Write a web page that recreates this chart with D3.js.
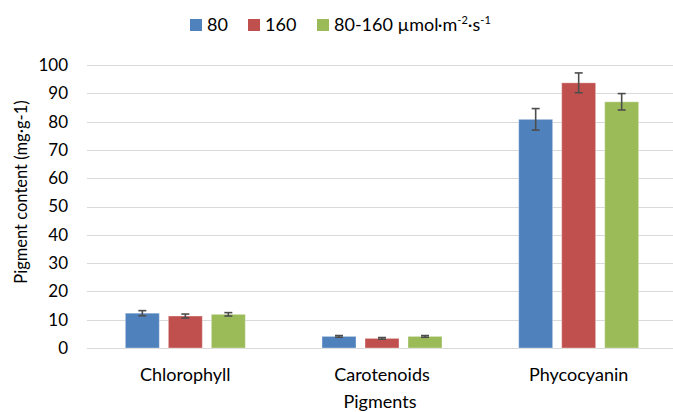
<!DOCTYPE html>
<html lang="en">
<head>
<meta charset="UTF-8">
<title>Pigment content</title>
<script src="https://d3js.org/d3.v7.min.js"></script>
<style>
    body { margin: 0; background: #fff; }
    svg { display: block; }
    text { font-family: Lato, "Open Sans", sans-serif; fill: #000; }
    .grid line { stroke: #d9d9d9; stroke-width: 1; }
    .err { stroke: #4d4d4d; stroke-width: 1.6; }
</style>
</head>
<body>
<svg></svg>
<script>
    const width = 673;
    const height = 412;

    // data
    const categories = ["Chlorophyll", "Carotenoids", "Phycocyanin"];
    const seriesNames = ["80", "160", "80-160"];
    const colors = ["#4f81bd", "#c0504d", "#9bbb59"];
    const values = [
        [12.3, 4.1, 80.8],   // 80
        [11.3, 3.4, 93.7],   // 160
        [11.9, 4.1, 87.0]    // 80-160
    ];
    const errors = [
        [0.9, 0.3, 3.8],
        [0.7, 0.3, 3.5],
        [0.6, 0.3, 2.9]
    ];
    const yTicks = [0, 10, 20, 30, 40, 50, 60, 70, 80, 90, 100];

    const svg = d3.select("svg")
        .attr("width", width)
        .attr("height", height);

    const x0 = d3.scaleBand()
        .domain(categories)
        .range([87, 677])
        .paddingInner(0.39)
        .paddingOuter(0.195);

    const x1 = d3.scaleBand()
        .domain(seriesNames)
        .range([0, x0.bandwidth()])
        .paddingInner(0.21);

    const y = d3.scaleLinear()
        .domain([0, 100])
        .range([348, 65]);

    // gridlines
    svg.append("g")
        .attr("class", "grid")
        .selectAll("line")
        .data(yTicks)
        .enter().append("line")
        .attr("x1", 87)
        .attr("x2", width)
        .attr("y1", d => Math.round(y(d)) + 0.5)
        .attr("y2", d => Math.round(y(d)) + 0.5);

    // y tick labels
    svg.append("g")
        .selectAll("text")
        .data(yTicks)
        .enter().append("text")
        .attr("x", 68)
        .attr("y", d => y(d))
        .attr("dy", "0.35em")
        .attr("text-anchor", "end")
        .style("font-size", "17px")
        .text(d => d);

    // flatten for bars
    const bars = [];
    seriesNames.forEach((s, si) => {
        categories.forEach((c, ci) => {
            bars.push({ cat: c, series: s, si: si, v: values[si][ci], e: errors[si][ci] });
        });
    });

    svg.append("g")
        .selectAll("rect")
        .data(bars)
        .enter().append("rect")
        .attr("x", d => x0(d.cat) + x1(d.series))
        .attr("y", d => y(d.v))
        .attr("width", x1.bandwidth())
        .attr("height", d => y(0) - y(d.v))
        .attr("fill", d => colors[d.si])
        .attr("stroke", "#fff")
        .attr("stroke-opacity", 0.35)
        .attr("stroke-width", 1);

    // error bars
    const eb = svg.append("g").attr("class", "err");
    bars.forEach(d => {
        const cx = x0(d.cat) + x1(d.series) + x1.bandwidth() / 2;
        eb.append("line")
            .attr("x1", cx).attr("x2", cx)
            .attr("y1", y(d.v + d.e)).attr("y2", y(d.v - d.e));
        [d.v + d.e, d.v - d.e].forEach(v => {
            eb.append("line")
                .attr("x1", cx - 4).attr("x2", cx + 4)
                .attr("y1", y(v)).attr("y2", y(v));
        });
    });

    // category labels
    svg.append("g")
        .selectAll("text")
        .data(categories)
        .enter().append("text")
        .attr("x", d => x0(d) + x0.bandwidth() / 2)
        .attr("y", 381)
        .attr("text-anchor", "middle")
        .style("font-size", "18px")
        .text(d => d);

    // axis titles
    svg.append("text")
        .attr("x", 380)
        .attr("y", 408)
        .attr("text-anchor", "middle")
        .style("font-size", "18px")
        .text("Pigments");

    svg.append("text")
        .attr("transform", "translate(27,192) rotate(-90)")
        .attr("text-anchor", "middle")
        .style("font-size", "16.5px")
        .text("Pigment content (mg·g-1)");

    // legend
    const legendX = [190, 248, 317];
    const legend = svg.append("g");
    seriesNames.forEach((s, i) => {
        const g = legend.append("g").attr("transform", `translate(${legendX[i]},19)`);
        g.append("rect")
            .attr("width", 12).attr("height", 12)
            .attr("fill", colors[i]);
        const t = g.append("text")
            .attr("x", 17).attr("y", 12)
            .style("font-size", "18px")
            .text(s);
        if (i === 2) {
            t.append("tspan").text(" µmol·m");
            t.append("tspan").attr("dy", -7).style("font-size", "11px").text("-2");
            t.append("tspan").attr("dy", 7).text("·s");
            t.append("tspan").attr("dy", -7).style("font-size", "11px").text("-1");
        }
    });
</script>
</body>
</html>
